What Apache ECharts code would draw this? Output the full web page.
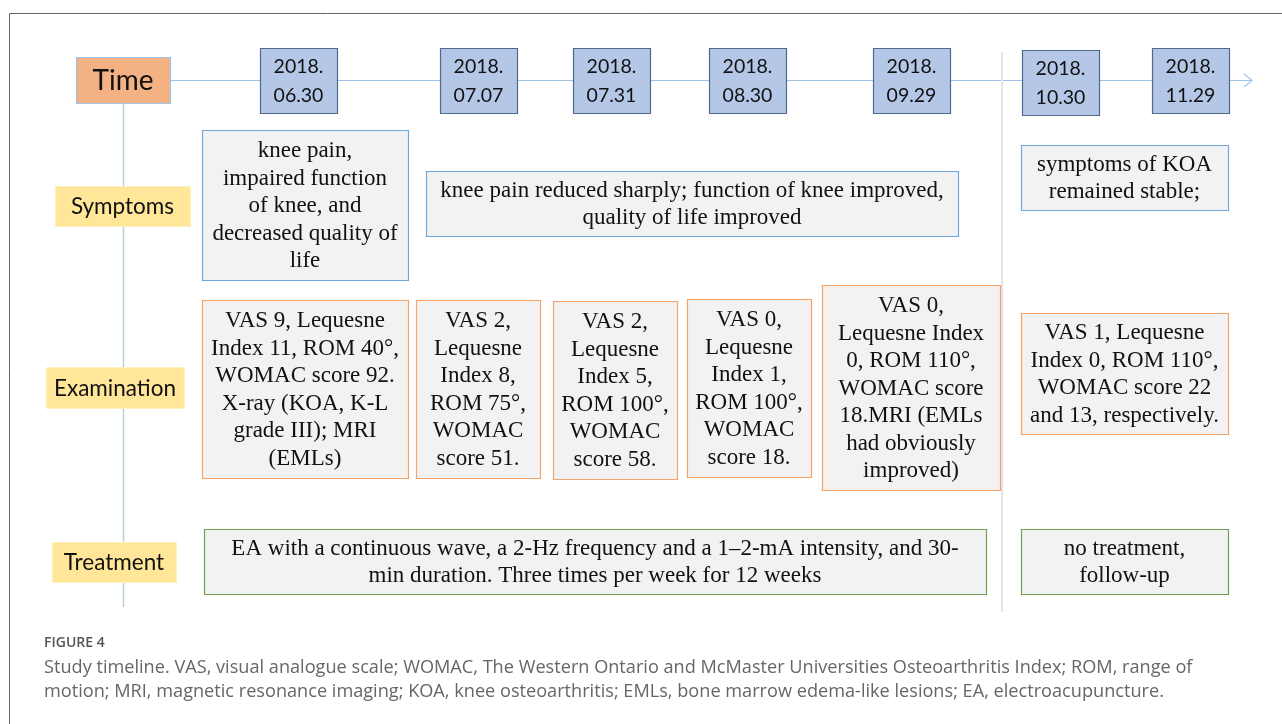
<!DOCTYPE html>
<html>
<head>
<meta charset="utf-8">
<script src="https://cdn.jsdelivr.net/npm/echarts@6/dist/echarts.min.js"></script>
<style>
  html, body { margin: 0; padding: 0; background: #fff; }
  #chart { width: 1282px; height: 724px; }
</style>
</head>
<body>
<div id="chart"></div>
<script>
// ---- data ----
const dates = ["2018.06.30", "2018.07.07", "2018.07.31", "2018.08.30", "2018.09.29", "2018.10.30", "2018.11.29"];
const rowLabels = ["Symptoms", "Examination", "Treatment"];
const symptoms = [
  "knee pain,\nimpaired function\nof knee, and\ndecreased quality of\nlife",
  "knee pain reduced sharply; function of knee improved,\nquality of life improved",
  "symptoms of KOA\nremained stable;"
];
const examinations = [
  "VAS 9, Lequesne\nIndex 11, ROM 40°,\nWOMAC score 92.\nX-ray (KOA, K-L\ngrade III); MRI\n(EMLs)",
  "VAS 2,\nLequesne\nIndex 8,\nROM 75°,\nWOMAC\nscore 51.",
  "VAS 2,\nLequesne\nIndex 5,\nROM 100°,\nWOMAC\nscore 58.",
  "VAS 0,\nLequesne\nIndex 1,\nROM 100°,\nWOMAC\nscore 18.",
  "VAS 0,\nLequesne Index\n0, ROM 110°,\nWOMAC score\n18.MRI (EMLs\nhad obviously\nimproved)",
  "VAS 1, Lequesne\nIndex 0, ROM 110°,\nWOMAC score 22\nand 13, respectively."
];
const treatments = [
  "EA with a continuous wave, a 2-Hz frequency and a 1\u20132-mA intensity, and 30-\nmin duration. Three times per week for 12 weeks",
  "no treatment,\nfollow-up"
];
const figureLabel = "FIGURE 4";
const caption = "Study timeline. VAS, visual analogue scale; WOMAC, The Western Ontario and McMaster Universities Osteoarthritis Index; ROM, range of\nmotion; MRI, magnetic resonance imaging; KOA, knee osteoarthritis; EMLs, bone marrow edema-like lesions; EA, electroacupuncture.";

// ---- layout (pixels) ----
const dateCols = [298, 478, 611, 747, 911, 1060, 1190];
const dateTops = [48, 48, 48, 48, 48, 50, 48];
const labelBoxes = [[55, 186, 135, 40], [46, 367, 138, 41], [52, 542, 124, 40]];
const symptomBoxes = [[202, 130, 206, 150], [426, 171, 532, 65], [1021, 145, 207, 65]];
const examBoxes = [[202, 300, 206, 178], [416, 300, 124, 178], [553, 301, 124, 178], [687, 299, 124, 178], [822, 285, 178, 205], [1021, 313, 207, 121]];
const treatBoxes = [[204, 529, 782, 65], [1021, 529, 207, 65]];

const SANS = "Lato";
const SERIF = "Liberation Serif";

function box(b, text, fill, stroke, family, size, lh) {
  return {
    type: "group",
    z: 10,
    children: [
      { type: "rect", shape: { x: b[0] + 0.5, y: b[1] + 0.5, width: b[2], height: b[3] },
        style: { fill: fill, stroke: stroke, lineWidth: 1.2 } },
      { type: "text", style: { text: text, x: b[0] + b[2] / 2, y: b[1] + b[3] / 2 + 1,
          align: "center", verticalAlign: "middle", fontFamily: family, fontSize: size,
          lineHeight: lh, fill: "#111" } }
    ]
  };
}

const g = [];
// frame
g.push({ type: "polyline", shape: { points: [[9.5, 724], [9.5, 13.5], [1282, 13.5]] }, style: { stroke: "#666", lineWidth: 1, fill: null } });
// timeline
g.push({ type: "line", shape: { x1: 170, y1: 80.5, x2: 1252, y2: 80.5 }, style: { stroke: "#9dc3e6", lineWidth: 1.2 } });
g.push({ type: "polyline", shape: { points: [[1244, 74], [1252, 80.5], [1244, 87]] }, style: { stroke: "#9dc3e6", lineWidth: 1.2, fill: null } });
// left spine
g.push({ type: "line", shape: { x1: 123.5, y1: 103, x2: 123.5, y2: 607 }, style: { stroke: "#b7cfdc", lineWidth: 1.5 } });
// divider
g.push({ type: "line", shape: { x1: 1002, y1: 52, x2: 1002, y2: 612 }, style: { stroke: "#e4e4e4", lineWidth: 2 } });

g.push(box([76, 57, 94, 46], "Time", "#f4b183", "#9dc3e6", SANS, 28, 30));
dates.forEach((d, i) => {
  g.push(box([dateCols[i] - 38, dateTops[i], 77, 65], d.slice(0, 5) + "\n" + d.slice(5), "#b4c7e7", "#4f6a8f", SANS, 19.5, 29));
});
rowLabels.forEach((t, i) => g.push(box(labelBoxes[i], t, "#ffe699", "#fff0c0", SANS, 22.5, 24)));
symptoms.forEach((t, i) => g.push(box(symptomBoxes[i], t, "#f2f2f2", "#6fa8dc", SERIF, 23, 27.5)));
examinations.forEach((t, i) => g.push(box(examBoxes[i], t, "#f2f2f2", "#f4a266", SERIF, 23, 27.5)));
treatments.forEach((t, i) => g.push(box(treatBoxes[i], t, "#f2f2f2", "#70a04f", SERIF, 23, 27)));

g.push({ type: "text", style: { text: figureLabel, x: 44, y: 643, verticalAlign: "middle",
  fontFamily: "Open Sans", fontSize: 14, fontWeight: 600, fill: "#555" } });
g.push({ type: "text", style: { text: caption, x: 44, y: 656, verticalAlign: "top",
  fontFamily: "Open Sans", fontSize: 18.15, lineHeight: 24, fill: "#666" } });

const chart = echarts.init(document.getElementById("chart"));
chart.setOption({ animation: false, backgroundColor: "#fff", graphic: g });
window.addEventListener("resize", chart.resize);
</script>
</body>
</html>
